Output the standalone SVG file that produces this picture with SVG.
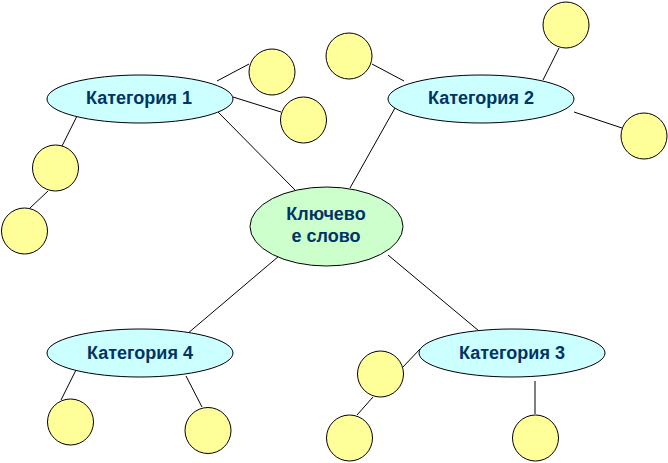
<svg xmlns="http://www.w3.org/2000/svg" width="668" height="463" viewBox="0 0 668 463">
<style>
.cat{fill:#ccffff;stroke:#000;stroke-width:1}
.key{fill:#ccffcc;stroke:#000;stroke-width:1}
.leaf{fill:#ffff99;stroke:#000;stroke-width:1}
.lbl{font-family:"Liberation Sans",Arial,sans-serif;font-weight:bold;font-size:18px;fill:#003366;text-anchor:middle}
#connectors line{stroke:#000;stroke-width:1}
</style>
<rect width="668" height="463" fill="#fff"/>
<g id="connectors">
<line x1="217" y1="81" x2="249" y2="64"/>
<line x1="233" y1="97" x2="281" y2="112"/>
<line x1="79" y1="112" x2="62" y2="146"/>
<line x1="48" y1="191" x2="30" y2="208"/>
<line x1="218" y1="112" x2="295" y2="190"/>
<line x1="372" y1="64" x2="404" y2="81"/>
<line x1="559" y1="48" x2="543" y2="80"/>
<line x1="574" y1="112" x2="622" y2="128"/>
<line x1="395" y1="108" x2="350" y2="188"/>
<line x1="279" y1="256" x2="187" y2="334"/>
<line x1="76" y1="370" x2="61" y2="400"/>
<line x1="186" y1="376" x2="202" y2="407"/>
<line x1="388" y1="255" x2="479" y2="331"/>
<line x1="420" y1="349" x2="403" y2="367"/>
<line x1="373" y1="397" x2="357" y2="415"/>
<line x1="535" y1="381" x2="535" y2="414"/>
</g>
<g id="key">
<ellipse class="key" cx="326.5" cy="226.5" rx="76.5" ry="39.5"/>
<text class="lbl" x="326" y="219.5">Ключево</text>
<text class="lbl" x="326" y="241.5">е слово</text>
</g>
<g id="cat1">
<ellipse class="cat" cx="140" cy="99" rx="93" ry="24"/>
<text class="lbl" x="139" y="103.5">Категория 1</text>
</g>
<g id="cat2">
<ellipse class="cat" cx="481" cy="99" rx="93" ry="24"/>
<text class="lbl" x="481" y="103.5">Категория 2</text>
</g>
<g id="cat3">
<ellipse class="cat" cx="512" cy="353" rx="93" ry="24"/>
<text class="lbl" x="512" y="359">Категория 3</text>
</g>
<g id="cat4">
<ellipse class="cat" cx="140" cy="353" rx="93" ry="24"/>
<text class="lbl" x="140" y="359">Категория 4</text>
</g>
<g id="leaf1a"><circle class="leaf" cx="272" cy="72" r="23"/></g>
<g id="leaf1b"><circle class="leaf" cx="303.5" cy="120" r="23"/></g>
<g id="leaf1c"><circle class="leaf" cx="55.5" cy="168" r="23"/></g>
<g id="leaf1d"><circle class="leaf" cx="24.5" cy="231" r="23"/></g>
<g id="leaf2a"><circle class="leaf" cx="349" cy="56" r="23"/></g>
<g id="leaf2b"><circle class="leaf" cx="566" cy="25" r="23"/></g>
<g id="leaf2c"><circle class="leaf" cx="644" cy="136" r="23"/></g>
<g id="leaf3a"><circle class="leaf" cx="380.5" cy="374" r="23"/></g>
<g id="leaf3b"><circle class="leaf" cx="349.5" cy="438" r="23"/></g>
<g id="leaf3c"><circle class="leaf" cx="535.5" cy="438" r="23"/></g>
<g id="leaf4a"><circle class="leaf" cx="70.5" cy="422" r="23"/></g>
<g id="leaf4b"><circle class="leaf" cx="208" cy="430.5" r="23"/></g>
</svg>
